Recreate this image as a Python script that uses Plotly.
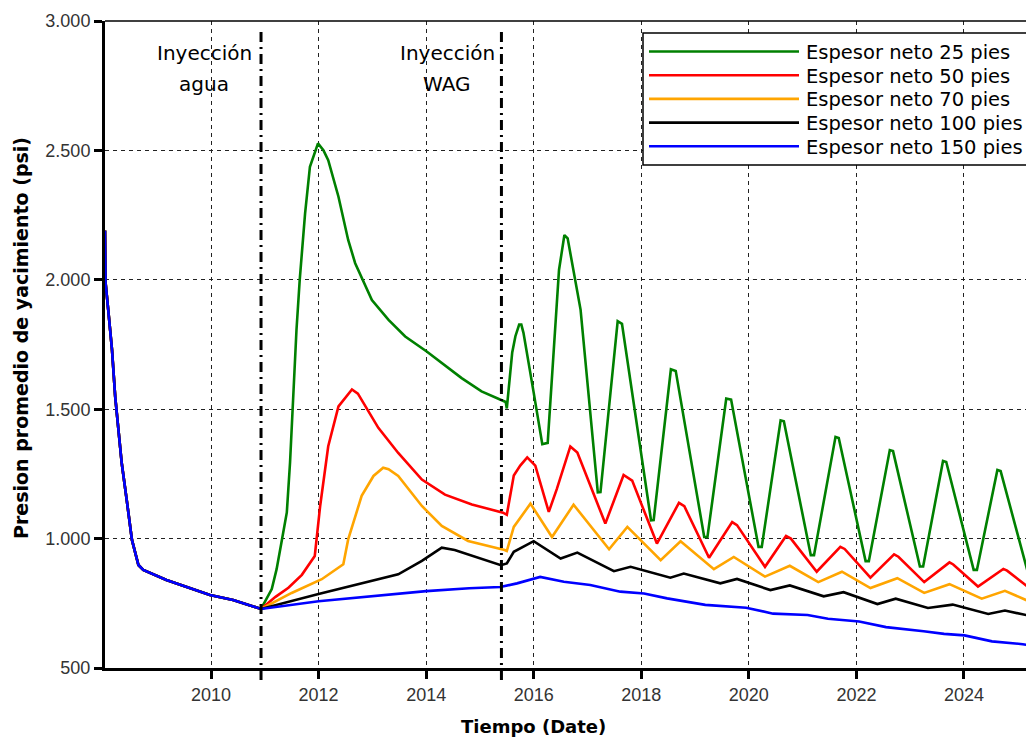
import pandas as pd
import plotly.graph_objects as go

# ---------------- data (fractional years, psi) ----------------
t_common = [2008.03, 2008.04, 2008.09, 2008.16, 2008.22, 2008.28, 2008.34, 2008.44,
            2008.53, 2008.65, 2008.74, 2009.17, 2009.98, 2010.41, 2010.93]
p_common = [2190, 1990, 1884, 1729, 1547, 1431, 1292, 1138, 995, 898, 879, 840, 782, 763, 728]

t_g = [2010.93, 2011.13, 2011.22, 2011.31, 2011.41, 2011.47, 2011.53, 2011.59, 2011.65, 2011.75,
       2011.84, 2011.99, 2012.09, 2012.18, 2012.37, 2012.55, 2012.68, 2012.99, 2013.30, 2013.61,
       2014.01, 2014.29, 2014.66, 2015.03, 2015.48, 2015.50, 2015.60, 2015.66, 2015.73, 2015.77,
       2015.81, 2016.00, 2016.16, 2016.26, 2016.47, 2016.57, 2016.63, 2016.87, 2017.19, 2017.24,
       2017.56, 2017.64, 2018.18, 2018.23, 2018.55, 2018.64, 2019.17, 2019.23, 2019.58, 2019.67,
       2020.18, 2020.24, 2020.59, 2020.65, 2021.15, 2021.21, 2021.61, 2021.67, 2022.17, 2022.23,
       2022.62, 2022.68, 2023.18, 2023.24, 2023.61, 2023.67, 2024.18, 2024.24, 2024.62, 2024.68,
       2025.19, 2025.25, 2025.35]
p_g = [728, 805, 882, 985, 1101, 1294, 1551, 1807, 2000, 2257,
       2437, 2527, 2501, 2462, 2321, 2154, 2064, 1922, 1845, 1781,
       1723, 1678, 1620, 1569, 1528, 1503, 1718, 1782, 1827, 1827,
       1795, 1564, 1365, 1370, 2038, 2173, 2160, 1885, 1179, 1180,
       1840, 1830, 1071, 1072, 1654, 1648, 1006, 1006, 1541, 1537,
       968, 968, 1457, 1453, 936, 936, 1393, 1389, 913, 913,
       1342, 1338, 892, 892, 1300, 1296, 879, 879, 1265, 1261,
       866, 866, 975]

t_r = [2010.93, 2011.20, 2011.44, 2011.69, 2011.93, 2012.03, 2012.18, 2012.37, 2012.62, 2012.73,
       2013.11, 2013.48, 2013.92, 2014.35, 2014.85, 2015.43, 2015.50, 2015.63, 2015.75, 2015.88,
       2016.03, 2016.28, 2016.43, 2016.68, 2016.81, 2017.33, 2017.67, 2017.83, 2018.29, 2018.70,
       2018.80, 2019.26, 2019.69, 2019.78, 2020.30, 2020.69, 2020.78, 2021.26, 2021.70, 2021.78,
       2022.26, 2022.70, 2022.78, 2023.26, 2023.73, 2023.80, 2024.26, 2024.73, 2024.80, 2025.28,
       2025.35]
p_r = [728, 775, 810, 860, 933, 1126, 1357, 1511, 1576, 1560,
       1428, 1331, 1228, 1170, 1132, 1100, 1092, 1244, 1282, 1314,
       1282, 1103, 1192, 1356, 1333, 1058, 1246, 1224, 981, 1138,
       1125, 926, 1064, 1052, 891, 1010, 1000, 872, 968, 960,
       849, 939, 930, 832, 908, 900, 815, 883, 876, 798,
       808]

t_o = [2010.93, 2011.50, 2012.06, 2012.46, 2012.55, 2012.80, 2013.02, 2013.20, 2013.30, 2013.48,
       2013.92, 2014.29, 2014.78, 2015.46, 2015.50, 2015.63, 2015.94, 2016.34, 2016.74, 2017.40,
       2017.74, 2018.36, 2018.73, 2019.35, 2019.72, 2020.30, 2020.76, 2021.29, 2021.73, 2022.26,
       2022.76, 2023.26, 2023.73, 2024.33, 2024.76, 2025.35]
p_o = [728, 790, 843, 901, 997, 1165, 1242, 1274, 1268, 1242,
       1126, 1049, 991, 956, 952, 1045, 1135, 1006, 1131, 959,
       1045, 917, 990, 882, 929, 853, 895, 832, 872, 809,
       847, 790, 824, 768, 798, 745]

t_k = [2010.93, 2012.00, 2013.00, 2013.48, 2013.92, 2014.29, 2014.53, 2015.03, 2015.39, 2015.50,
       2015.63, 2016.00, 2016.50, 2016.81, 2017.49, 2017.80, 2018.54, 2018.79, 2019.47, 2019.78,
       2020.40, 2020.76, 2021.39, 2021.76, 2022.39, 2022.73, 2023.33, 2023.79, 2024.45, 2024.76,
       2025.35]
p_k = [728, 786, 838, 862, 914, 965, 956, 920, 897, 904,
       949, 990, 923, 946, 874, 891, 849, 865, 827, 844,
       801, 819, 777, 793, 747, 768, 732, 745, 709, 722,
       696]

t_b = [2010.93, 2012.00, 2013.00, 2014.00, 2014.80, 2015.38, 2015.69, 2016.12, 2016.56, 2017.05,
       2017.61, 2018.05, 2018.48, 2019.19, 2019.95, 2020.45, 2021.09, 2021.47, 2022.05, 2022.55,
       2023.25, 2023.63, 2024.01, 2024.52, 2025.09, 2025.35]
p_b = [728, 758, 778, 797, 808, 813, 827, 852, 833, 821,
       795, 788, 769, 744, 733, 710, 705, 690, 680, 658,
       642, 632, 626, 603, 592, 583]

names = ["Espesor neto 25 pies", "Espesor neto 50 pies", "Espesor neto 70 pies",
         "Espesor neto 100 pies", "Espesor neto 150 pies"]
colors = ["#008000", "#ff0000", "#ffa500", "#000000", "#0000ff"]
series_t = [t_g, t_r, t_o, t_k, t_b]
series_p = [p_g, p_r, p_o, p_k, p_b]

event_years = [2010.93, 2015.40]
event_labels = [["Inyección", "agua"], ["Inyección", "WAG"]]


def to_date(y):
    yi = int(y)
    start = pd.Timestamp(year=yi, month=1, day=1)
    days = (pd.Timestamp(year=yi + 1, month=1, day=1) - start).days
    return start + pd.Timedelta(days=(y - yi) * days)


fig = go.Figure()
for name, col, ts, ps in zip(names, colors, series_t, series_p):
    tt = t_common[:-1] + ts
    pp = p_common[:-1] + ps
    fig.add_trace(go.Scatter(
        x=[to_date(v) for v in tt], y=pp, mode="lines", name=name,
        line=dict(color=col, width=2.6), showlegend=False))

# page is offset by the 8px default body margin
W, H = 1026, 730
L, R, T, B = 97, 0, 13, 70
PX0, PY0, PW, PH = 105, 21, 929, 647   # plot area in page pixels


def px(x):
    return (x - PX0) / PW


def py(y):
    return (PY0 + PH - y) / PH


shapes = []
annotations = []

# top border
shapes.append(dict(type="line", xref="paper", yref="paper", x0=0, x1=1, y0=1, y1=1,
                   line=dict(color="black", width=1.5), layer="above"))

# event lines
for ev in event_years:
    shapes.append(dict(type="line", xref="x", yref="paper", x0=to_date(ev), x1=to_date(ev),
                       y0=py(680), y1=py(32),
                       line=dict(color="black", width=3, dash="10px,5px,2px,5px"), layer="above"))

label_x = [204, 447]
for lx, lines in zip(label_x, event_labels):
    for i, txt in enumerate(lines):
        annotations.append(dict(text=txt, xref="paper", yref="paper", x=px(lx), y=py(53 + 31 * i),
                                xanchor="center", yanchor="middle", showarrow=False,
                                font=dict(family="DejaVu Sans", size=20, color="black")))

# legend (manual)
shapes.append(dict(type="rect", xref="paper", yref="paper", x0=px(643), x1=px(1031),
                   y0=py(165), y1=py(33), line=dict(color="black", width=1.5),
                   fillcolor="white", layer="above"))
row_y = [51.5, 75.2, 98.9, 122.6, 146.3]
for name, col, ry in zip(names, colors, row_y):
    shapes.append(dict(type="line", xref="paper", yref="paper", x0=px(649), x1=px(799),
                       y0=py(ry), y1=py(ry), line=dict(color=col, width=2.6), layer="above"))
    annotations.append(dict(text=name, xref="paper", yref="paper", x=px(804), y=py(ry + 1),
                            xanchor="left", yanchor="middle", showarrow=False,
                            font=dict(family="DejaVu Sans", size=19.5, color="black")))

# axis titles
annotations.append(dict(text="<b>Tiempo (Date)</b>", xref="paper", yref="paper", x=px(533), y=py(726),
                        xanchor="center", yanchor="middle", showarrow=False,
                        font=dict(family="DejaVu Sans", size=18, color="black")))
annotations.append(dict(text="<b>Presion promedio de yacimiento (psi)</b>", xref="paper", yref="paper",
                        x=px(21), y=py(338), xanchor="center", yanchor="middle", showarrow=False,
                        textangle=-90, font=dict(family="DejaVu Sans", size=19, color="black")))

fig.update_layout(
    width=W, height=H, margin=dict(l=L, r=R, t=T, b=B, pad=0),
    paper_bgcolor="white", plot_bgcolor="white",
    separators=",.", shapes=shapes, annotations=annotations, showlegend=False,
)
fig.update_xaxes(type="date", range=[to_date(2008.03), to_date(2025.30)],
                 tick0="2010-01-01", dtick="M24", tickformat="%Y",
                 showline=True, linecolor="black", linewidth=3,
                 ticks="outside", ticklen=8, tickwidth=2.5, tickcolor="black",
                 showgrid=True, gridcolor="#222222", gridwidth=1, griddash="4px,4px",
                 zeroline=False, tickfont=dict(family="Liberation Sans", size=18, color="#333333"))
fig.update_yaxes(range=[500, 3000], tick0=500, dtick=500, tickformat=",d",
                 showline=True, linecolor="black", linewidth=3,
                 ticks="outside", ticklen=8, tickwidth=2.5, tickcolor="black",
                 showgrid=True, gridcolor="#222222", gridwidth=1, griddash="4px,4px",
                 zeroline=False, tickfont=dict(family="Liberation Sans", size=18, color="#333333"))

fig.write_html("out.html")
